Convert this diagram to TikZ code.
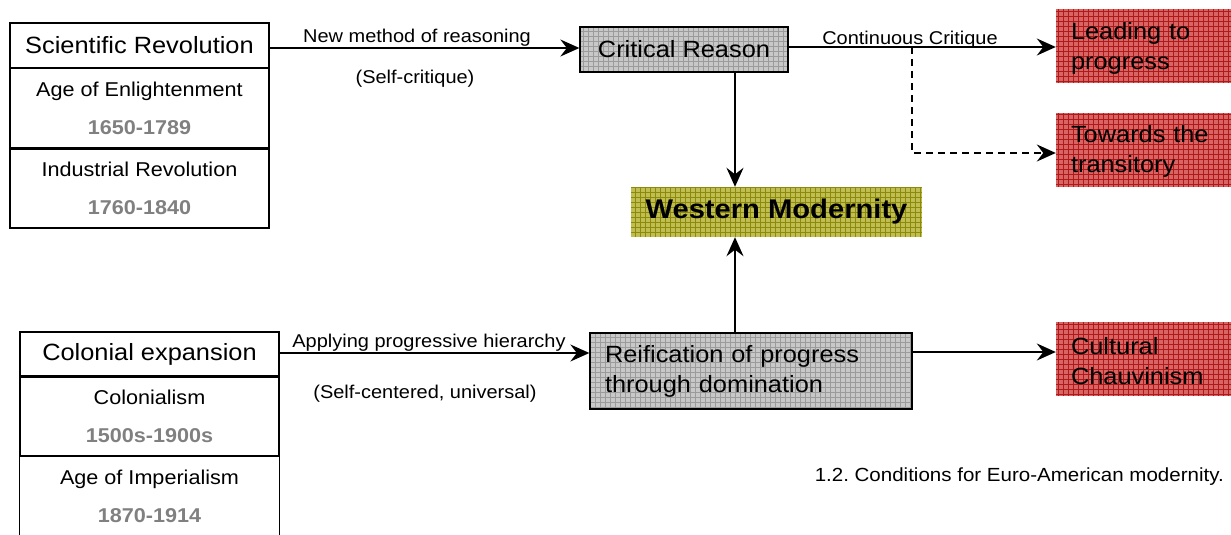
\documentclass[tikz,border=0pt]{standalone}
\usepackage{fontspec}
\setmainfont[FakeStretch=1.08]{Liberation Sans}
\usetikzlibrary{arrows.meta,calc}
\frenchspacing

\definecolor{dategray}{HTML}{808080}
\definecolor{boxgray}{RGB}{200,200,200}
\definecolor{gridgray}{RGB}{155,155,155}
\definecolor{boxolive}{RGB}{192,190,82}
\definecolor{gridolive}{RGB}{140,138,10}
\definecolor{boxred}{RGB}{216,100,100}
\definecolor{gridred}{RGB}{175,25,25}

\tikzset{
  gridfill/.style 2 args={fill=#1, path picture={
      \draw[#2, line width=0.55pt, step=5pt]
        (path picture bounding box.south west) grid (path picture bounding box.north east);}},
  titlebox/.style={draw, line width=1.3pt, minimum width=259pt, inner sep=0pt,
      font=\fontsize{23.5}{28}\selectfont},
  periodbox/.style={draw, line width=1.3pt, minimum width=259pt, minimum height=80pt,
      inner sep=0pt, align=center, font=\fontsize{20}{40}\selectfont},
  graybox/.style={draw, line width=1.3pt, gridfill={boxgray}{gridgray},
      font=\fontsize{23.5}{30}\selectfont, inner sep=0pt},
  redbox/.style={gridfill={boxred}{gridred}, minimum width=175pt, minimum height=74pt,
      inner sep=0pt},
  redtext/.style={inner sep=0pt, text width=145pt, align=left, yshift=-2pt,
      font=\fontsize{23.5}{30}\selectfont},
  lbl/.style={font=\fontsize{18.5}{22}\selectfont, inner sep=0pt},
  arr/.style={line width=1.7pt, -{Stealth[length=19pt, width=17pt, inset=6.5pt]}},
}

\begin{document}
\begin{tikzpicture}[x=1pt, y=-1pt]
\useasboundingbox (0,0) rectangle (1231,535);

% upper stack of periods
\node[titlebox, minimum height=45pt] (sci) at (139.5,45.5) {\raisebox{-1.5pt}{Scientific Revolution}};
\node[periodbox] (enl) at (139.5,108) {\raisebox{-2pt}{Age of Enlightenment}\\{\bfseries\color{dategray}1650-1789}};
\node[periodbox] (ind) at (139.5,188) {\raisebox{-2pt}{Industrial Revolution}\\{\bfseries\color{dategray}1760-1840}};
\draw[line width=2.4pt] (enl.south west) -- (enl.south east);

% lower stack of periods, open at the bottom
\node[titlebox, minimum height=44pt] (col) at (149.5,354) {\raisebox{-1.5pt}{Colonial expansion}};
\node[periodbox] (colo) at (149.5,416) {\raisebox{-2pt}{Colonialism}\\{\bfseries\color{dategray}1500s-1900s}};
\node[periodbox, draw=none] (imp) at (149.5,496) {\raisebox{-2pt}{Age of Imperialism}\\{\bfseries\color{dategray}1870-1914}};
\draw[line width=1.3pt] (imp.north west) -- ++(0,90);
\draw[line width=1.3pt] (imp.north east) -- ++(0,90);
\draw[line width=2.4pt] (col.south west) -- (col.south east);

% central boxes
\node[graybox, minimum width=208pt, minimum height=45pt] (crit) at (684,49.5) {\raisebox{-1.5pt}{Critical Reason}};
\node[draw=none, gridfill={boxolive}{gridolive}, minimum width=291pt, minimum height=50pt,
      inner sep=0pt, font=\fontsize{27}{32}\selectfont\bfseries] (wm) at (776.5,212) {\raisebox{-1.5pt}{Western Modernity}};
\node[graybox, minimum width=322pt, minimum height=76pt, inner xsep=15pt,
      text width=292pt, align=left] (reif) at (751,371)
      {Reification of progress\\through domination};

% outcome boxes
\node[redbox] (lead) at (1143.5,46) {};
\node[redtext] (leadt) at (lead.center) {Leading to\\progress};
\node[redbox] (trans) at (1143.5,149.5) {};
\node[redtext] (transt) at (trans.center) {Towards the\\transitory};
\node[redbox] (cult) at (1143.5,359) {};
\node[redtext] (cultt) at (cult.center) {Cultural\\Chauvinism};

% connectors
\draw[arr] (sci.east |- 0,48) -- (crit.west |- 0,48);
\draw[arr] (crit.east |- 0,47) -- (lead.west |- 0,47);
\coordinate (br) at (912,47);
\draw[arr, dashed, dash pattern=on 7pt off 5pt] (br) |- (trans.west |- 0,153);
\draw[arr] (crit.south -| 735,0) -- (wm.north -| 735,0);
\draw[arr] (reif.north -| 735,0) -- (wm.south -| 735,0);
\draw[arr] (col.east |- 0,353) -- (reif.west |- 0,353);
\draw[arr] (reif.east |- 0,352) -- (cult.west |- 0,352);

% connector labels
\node[lbl] (l1) at (417,38) {New method of reasoning};
\node[lbl] (l2) at (415,79) {(Self-critique)};
\node[lbl] (l3) at (910,40) {Continuous Critique};
\node[lbl] (l4) at (429,343) {Applying progressive hierarchy};
\node[lbl] (l5) at (425,394) {(Self-centered, universal)};

% caption
\node[font=\fontsize{19}{22}\selectfont, anchor=east, inner sep=0pt] (cap) at (1224,477)
  {1.2. Conditions for Euro-American modernity.};
\end{tikzpicture}
\end{document}
